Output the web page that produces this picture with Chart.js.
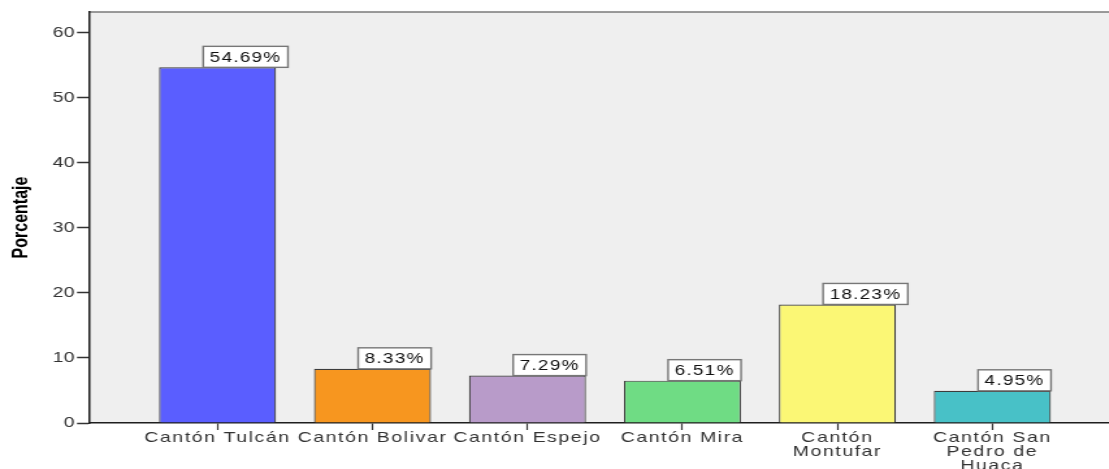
<!DOCTYPE html>
<html><head><meta charset="utf-8">
<script src="https://cdn.jsdelivr.net/npm/chart.js@4/dist/chart.umd.min.js"></script>
<style>
html,body{margin:0;padding:0;background:#fff;overflow:hidden;width:1109px;height:469px}
#wrap{width:853px;height:469px;transform:scaleX(1.3);transform-origin:0 0;}
canvas{display:block}
</style></head><body>
<div id="wrap"><canvas id="c" width="853" height="469"></canvas></div>
<script>
// ---- data ----
const categories = ["Cantón Tulcán", "Cantón Bolivar", "Cantón Espejo", "Cantón Mira", "Cantón Montufar", "Cantón San Pedro de Huaca"];
const tickLabelLines = [["Cantón Tulcán"], ["Cantón Bolivar"], ["Cantón Espejo"], ["Cantón Mira"], ["Cantón", "Montufar"], ["Cantón San", "Pedro de", "Huaca"]];
const percentages = [54.69, 8.33, 7.29, 6.51, 18.23, 4.95];
const yAxisTitle = "Porcentaje";
const barColors = ["#5a5eff", "#f7961f", "#b89bc9", "#6fdc84", "#fbf775", "#48c1c7"];

const points = percentages.map((v, i) => ({x: i, y: v}));

const bgPlugin = {
  id: 'bg',
  beforeDraw(chart) {
    const ctx = chart.ctx, a = chart.chartArea;
    ctx.letterSpacing = '0px';
    ctx.save();
    ctx.fillStyle = '#efefef';
    ctx.fillRect(a.left, a.top, a.right - a.left, a.bottom - a.top);
    ctx.strokeStyle = '#7a7a7a';
    ctx.lineWidth = 1.6;
    ctx.beginPath();
    ctx.moveTo(a.left, a.top);
    ctx.lineTo(a.right + 2, a.top);
    ctx.stroke();
    ctx.restore();
  }
};

const labelPlugin = {
  id: 'boxLabels',
  afterDatasetsDraw(chart) {
    const ctx = chart.ctx;
    const meta = chart.getDatasetMeta(0);
    ctx.save();
    ctx.letterSpacing = '1px';
    ctx.font = '14.5px "Liberation Sans", Arial, sans-serif';
    meta.data.forEach((bar, i) => {
      const txt = percentages[i].toFixed(2) + '%';
      const w = ctx.measureText(txt).width + 10;
      const h = 21;
      const x0 = bar.x - 11;
      const y0 = bar.y - h;
      ctx.fillStyle = '#ffffff';
      ctx.fillRect(x0, y0, w, h);
      ctx.strokeStyle = '#777';
      ctx.lineWidth = 1.4;
      ctx.strokeRect(x0, y0, w, h);
      ctx.fillStyle = '#111';
      ctx.textBaseline = 'middle';
      ctx.textAlign = 'left';
      ctx.fillText(txt, x0 + 5, y0 + h / 2 + 1);
    });
    ctx.restore();
    ctx.letterSpacing = '1.2px';
  }
};

new Chart(document.getElementById('c'), {
  type: 'bar',
  data: {
    labels: categories,
    datasets: [{
      data: points,
      backgroundColor: barColors,
      borderColor: '#3c3c3c',
      borderWidth: 1.2,
      categoryPercentage: 1,
      barPercentage: 0.755
    }]
  },
  options: {
    responsive: false,
    animation: false,
    devicePixelRatio: 1,
    layout: {padding: {top: 12, right: 0, left: 0, bottom: 0}},
    plugins: {legend: {display: false}, tooltip: {enabled: false}},
    scales: {
      x: {
        type: 'linear',
        offset: false,
        min: -0.826,
        max: 5.752,
        afterFit(s) { s.height = 46; },
        ticks: {
          stepSize: 1,
          includeBounds: false,
          autoSkip: false,
          maxRotation: 0,
          z: 1,
          padding: 1,
          color: '#333',
          font: {family: '"Liberation Sans", Arial, sans-serif', size: 15, lineHeight: 0.93},
          callback: (v) => (Number.isInteger(v) && v >= 0 && v < tickLabelLines.length) ? tickLabelLines[v] : ''
        },
        grid: {offset: false, drawOnChartArea: false, drawTicks: true, tickLength: 7, tickColor: '#333', tickWidth: 1.2},
        border: {display: true, color: '#1e1e1e', width: 1.5}
      },
      y: {
        min: 0,
        max: 63.2,
        afterFit(s) { s.width = 68.85; },
        ticks: {
          stepSize: 10,
          includeBounds: false,
          padding: 2,
          color: '#333',
          font: {family: '"Liberation Sans", Arial, sans-serif', size: 15}
        },
        grid: {drawOnChartArea: false, drawTicks: true, tickLength: 9.6, tickColor: '#333', tickWidth: 1.5},
        border: {display: true, color: '#1e1e1e', width: 1.5},
        title: {
          display: true,
          text: yAxisTitle,
          color: '#000',
          padding: {top: 7, bottom: 0},
          font: {family: '"Liberation Sans", Arial, sans-serif', size: 16, weight: 'bold'}
        }
      }
    }
  },
  plugins: [bgPlugin, labelPlugin]
});
</script>
</body></html>
